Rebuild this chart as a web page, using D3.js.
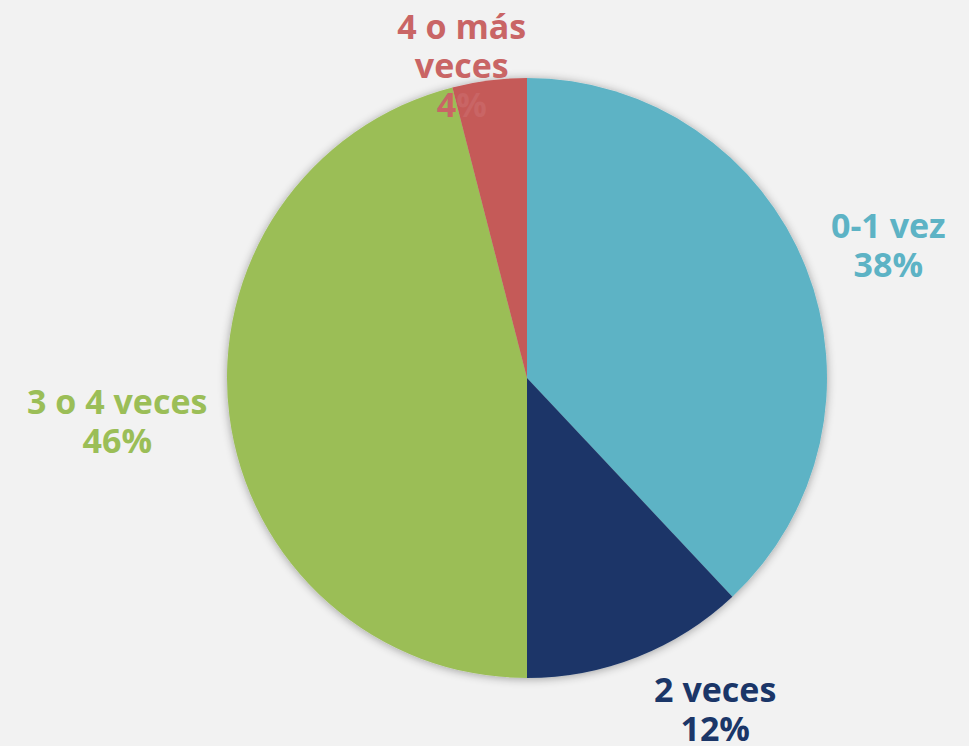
<!DOCTYPE html>
<html>
<head>
<meta charset="utf-8">
<script src="https://cdn.jsdelivr.net/npm/d3@7"></script>
<style>
  body{margin:0;background:#f2f2f2;}
  svg{display:block;}
</style>
</head>
<body>
<svg id="chart"></svg>
<script>
var categories = ["0-1 vez","2 veces","3 o 4 veces","4 o más veces"];
var values = [38,12,46,4];
var colors = ["#5db3c5","#1b3668","#9bbe57","#c55a59"];
var textColors = ["#5db3c5","#1b3668","#9bbe57","#c96565"];
// label lines (category split the way the chart wraps it)
var labelLines = [["0-1 vez"],["2 veces"],["3 o 4 veces"],["4 o más","veces"]];

function makeChart(){
  var width = 969;
  var height = 746;
  var cx = 527, cy = 378, radius = 300;
  var labelRadius = [385, 381, 412, 319];
  var labelShift = [1.4, -8, 1.2, -4.6]; // degrees nudged like Excel best fit
  var lineH = 39;
  var fontSize = 34;

  var svg = d3.select("#chart")
              .attr("width",width)
              .attr("height",height);

  svg.append("rect")
     .attr("width",width)
     .attr("height",height)
     .attr("fill","#f2f2f2");

  var defs = svg.append("defs");
  var filt = defs.append("filter")
                 .attr("id","shadow")
                 .attr("x","-20%").attr("y","-20%")
                 .attr("width","140%").attr("height","140%");
  filt.append("feGaussianBlur")
      .attr("in","SourceAlpha")
      .attr("stdDeviation",5);
  filt.append("feOffset").attr("dx",0).attr("dy",1).attr("result","blur");
  filt.append("feComponentTransfer").append("feFuncA")
      .attr("type","linear").attr("slope",0.35);
  var merge = filt.append("feMerge");
  merge.append("feMergeNode");
  merge.append("feMergeNode").attr("in","SourceGraphic");

  var pie = d3.pie().sort(null).value(function(d){return d;});
  var arcs = pie(values);
  var arc = d3.arc().innerRadius(0).outerRadius(radius);

  var g = svg.append("g")
             .attr("transform","translate("+cx+","+cy+")");

  var slices = g.append("g").attr("filter","url(#shadow)");
  slices.selectAll("path")
        .data(arcs)
        .enter()
        .append("path")
        .attr("d",arc)
        .attr("fill",function(d,i){return colors[i];});

  var labels = g.selectAll("text.lab")
                .data(arcs)
                .enter()
                .append("text")
                .attr("class","lab")
                .attr("text-anchor","middle")
                .attr("font-family","'Open Sans', sans-serif")
                .attr("font-weight","bold")
                .attr("font-size",fontSize)
                .attr("fill",function(d,i){return textColors[i];})
                .attr("transform",function(d,i){
                  var mid = (d.startAngle+d.endAngle)/2 + labelShift[i]*Math.PI/180;
                  var x = Math.sin(mid)*labelRadius[i];
                  var y = -Math.cos(mid)*labelRadius[i];
                  return "translate("+x+","+y+")";
                });

  labels.each(function(d,i){
    var lines = labelLines[i].concat([values[i]+"%"]);
    var t = d3.select(this);
    var top = -(lines.length-1)*lineH/2 + fontSize*0.36;
    lines.forEach(function(l,j){
      t.append("tspan")
       .attr("x",0)
       .attr("y",top+j*lineH)
       .text(l);
    });
  });
}

makeChart();
</script>
</body>
</html>
